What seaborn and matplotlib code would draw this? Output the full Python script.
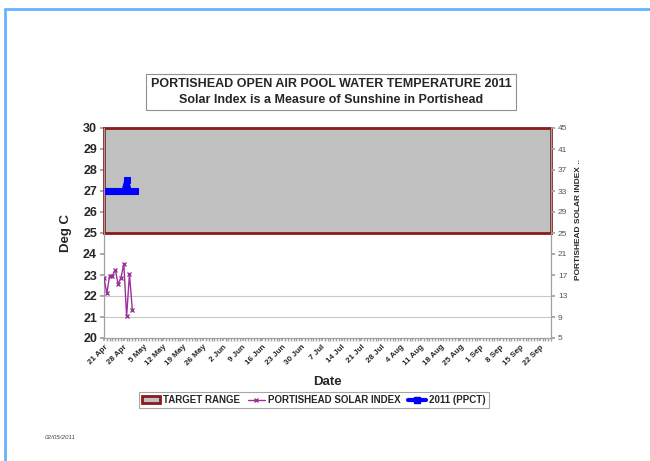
import pandas as pd
import matplotlib.pyplot as plt
import matplotlib.dates as mdates
import seaborn as sns
from matplotlib.lines import Line2D
from matplotlib.patches import Patch

# Values
solar_dates = pd.date_range("2011-04-21", "2011-05-01", freq="D")
solar_index = [16.4, 13.5, 16.9, 16.9, 18.0, 15.2, 16.5, 19.1, 9.1, 17.2, 10.4]

water_dates = pd.date_range("2011-04-21", "2011-05-02", freq="D")
water_temp = [27, 27, 27, 27, 27, 27, 27, 27, 27.5, 27, 27, 27]

target_low, target_high = 25, 30

x_start = pd.Timestamp("2011-04-21")
x_end = pd.Timestamp("2011-09-26")
tick_dates = pd.date_range("2011-04-21", "2011-09-22", freq="7D")
tick_labels = [f"{d.day} {d:%b}" for d in tick_dates]

left_ticks = list(range(20, 31))
right_ticks = list(range(5, 46, 4))


def main():
    sns.set_theme(style="white")
    plt.rcParams["font.family"] = ["Liberation Sans", "DejaVu Sans"]

    solar = pd.DataFrame({"date": solar_dates, "index": solar_index})
    water = pd.DataFrame({"date": water_dates, "temp": water_temp})

    fig = plt.figure(figsize=(6.5, 4.61), dpi=100)
    ax = fig.add_axes([104 / 650, 1 - 338 / 461, 447 / 650, 210 / 461])
    ax2 = ax.twinx()

    grey = "#a0a0a0"
    maroon = "#8b1a1a"
    purple = "#993399"

    # target range band
    ax.axhspan(target_low, target_high, facecolor="#c0c0c0", edgecolor=maroon,
               linewidth=2, clip_on=False, zorder=1)
    for g in (21, 22):
        ax.axhline(g, color="#c8c8c8", linewidth=0.8, zorder=0.5)

    sns.lineplot(data=water, x="date", y="temp", ax=ax, color="#0000ff",
                 linewidth=3.4, marker="s", markersize=4.5,
                 markeredgecolor="#0000ff", zorder=5)
    sns.lineplot(data=solar, x="date", y="index", ax=ax2, color=purple,
                 linewidth=1, marker="x", markersize=3.5, markeredgewidth=1,
                 markeredgecolor=purple, zorder=5)

    ax.set_xlim(x_start, x_end)
    ax.set_ylim(20, 30)
    ax2.set_ylim(5, 45)
    ax.set_yticks(left_ticks)
    ax.set_yticklabels([str(t) for t in left_ticks], fontsize=9, fontweight="bold")
    ax2.set_yticks(right_ticks)
    ax2.set_yticklabels([str(t) for t in right_ticks], fontsize=6, color="#555555")

    ax.set_xticks(tick_dates)
    ax.set_xticklabels(tick_labels, rotation=45, ha="right", rotation_mode="anchor",
                       fontsize=5.8, fontweight="bold")
    ax.xaxis.set_minor_locator(mdates.DayLocator())
    ax.tick_params(axis="x", which="both", direction="out", length=2, color=grey,
                   bottom=True, pad=2)
    ax.tick_params(axis="y", direction="out", length=3, color=grey, left=True, pad=2)
    ax2.tick_params(axis="y", direction="out", length=3, color=grey, right=True, pad=2)

    ax.set_xlabel("Date", fontsize=9.5, fontweight="bold", labelpad=6)
    ax.set_ylabel("Deg C", fontsize=9.5, fontweight="bold", labelpad=8)
    ax2.set_ylabel("")
    for a in (ax, ax2):
        for side in ("left", "right", "bottom", "top"):
            a.spines[side].set_color(grey)
            a.spines[side].set_linewidth(0.8)
        a.spines["top"].set_visible(False)

    fig.text(578 / 650, 1 - 220 / 461, "PORTISHEAD SOLAR INDEX ..", rotation=90,
             ha="center", va="center", fontsize=6, fontweight="bold")

    fig.text(331 / 650, 1 - 92 / 461,
             "PORTISHEAD OPEN AIR POOL WATER TEMPERATURE 2011\n"
             "Solar Index is a Measure of Sunshine in Portishead",
             ha="center", va="center", fontsize=9, fontweight="bold",
             linespacing=1.35,
             bbox=dict(boxstyle="square,pad=0.35", facecolor="white",
                       edgecolor="#909090", linewidth=0.8))

    handles = [
        Patch(facecolor="#c0c0c0", edgecolor=maroon, linewidth=2),
        Line2D([], [], color=purple, linewidth=1, marker="x", markersize=3.5),
        Line2D([], [], color="#0000ff", linewidth=3, marker="s", markersize=4),
    ]
    labels = ["TARGET RANGE", "PORTISHEAD SOLAR INDEX", "2011 (PPCT)"]
    leg = fig.legend(handles, labels, loc="center", ncol=3,
                     bbox_to_anchor=(314 / 650, 1 - 400 / 461),
                     prop={"size": 7, "weight": "bold"}, frameon=True,
                     fancybox=False, handlelength=1.8, handletextpad=0.3,
                     columnspacing=0.8, borderpad=0.35)
    leg.get_frame().set_edgecolor("#909090")
    leg.get_frame().set_linewidth(0.8)

    fig.text(45 / 650, 1 - 437 / 461, "02/05/2011", fontsize=4.5, style="italic",
             color="#444444", va="center")

    # page border lines
    blue = "#66b3ff"
    fig.add_artist(Line2D([5 / 650, 1], [1 - 9 / 461, 1 - 9 / 461], color=blue,
                          linewidth=2, transform=fig.transFigure))
    fig.add_artist(Line2D([5 / 650, 5 / 650], [0, 1 - 9 / 461], color=blue,
                          linewidth=2, transform=fig.transFigure))

    fig.savefig("out.png", dpi=100)
    plt.close(fig)


if __name__ == "__main__":
    main()
